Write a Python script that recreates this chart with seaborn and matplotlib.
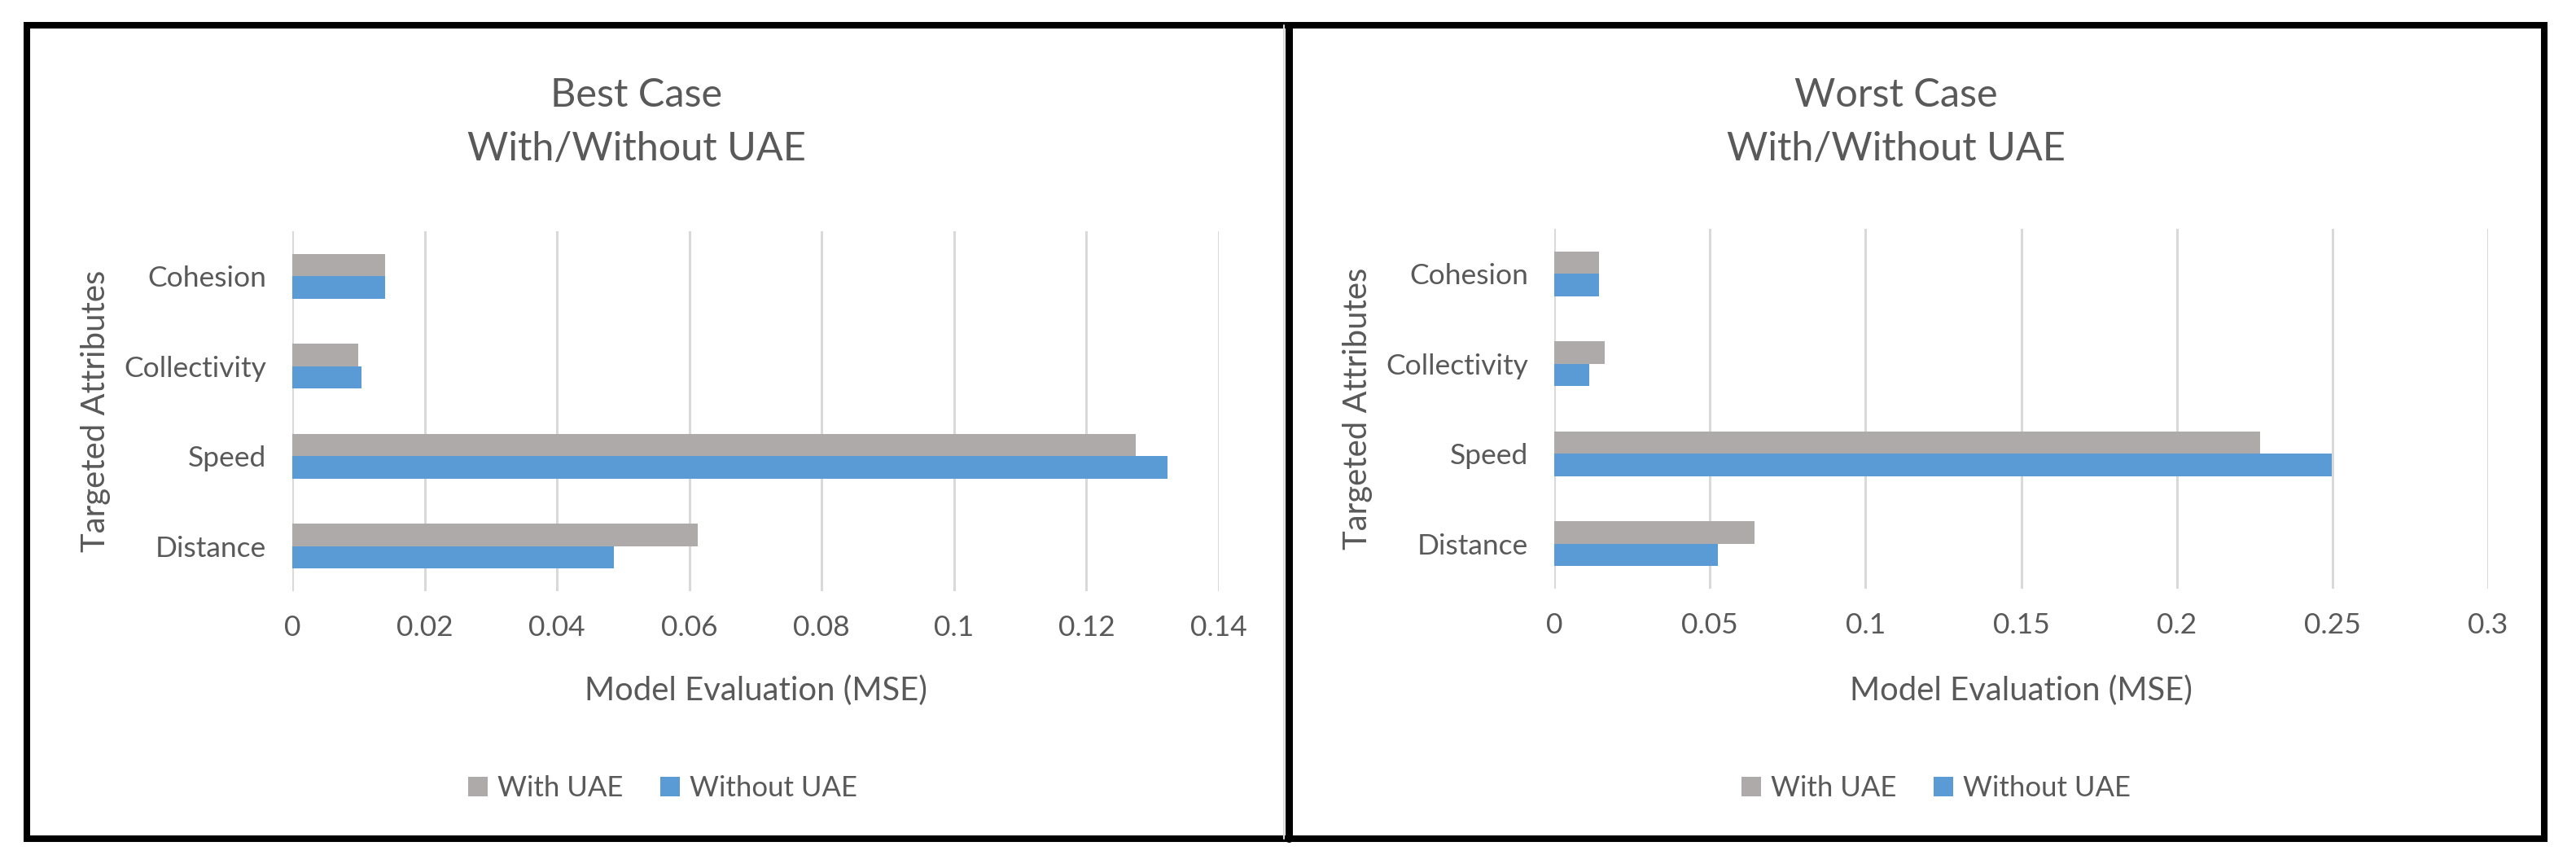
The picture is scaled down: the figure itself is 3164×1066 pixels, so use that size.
import matplotlib
matplotlib.use("Agg")
import matplotlib.pyplot as plt
from matplotlib.patches import Rectangle, Patch
from matplotlib.lines import Line2D
from matplotlib.ticker import FixedLocator, FixedFormatter
import seaborn as sns
import pandas as pd

# ---------------- data ----------------
attributes = ["Cohesion", "Collectivity", "Speed", "Distance"]
series_names = ["With UAE", "Without UAE"]

best_with = [0.0140, 0.0100, 0.1275, 0.0613]
best_without = [0.0140, 0.0105, 0.1323, 0.0486]

worst_with = [0.0145, 0.0163, 0.2268, 0.0644]
worst_without = [0.0145, 0.0113, 0.2499, 0.0526]

best_ticks = [0, 0.02, 0.04, 0.06, 0.08, 0.10, 0.12, 0.14]
best_tick_labels = ["0", "0.02", "0.04", "0.06", "0.08", "0.1", "0.12", "0.14"]
worst_ticks = [0, 0.05, 0.10, 0.15, 0.20, 0.25, 0.30]
worst_tick_labels = ["0", "0.05", "0.1", "0.15", "0.2", "0.25", "0.3"]

titles = ["Best Case\nWith/Without UAE", "Worst Case\nWith/Without UAE"]
xlabel = "Model Evaluation (MSE)"
ylabel = "Targeted Attributes"

colors = ["#AEAAAA", "#5B9BD5"]
text_color = "#595959"
grid_color = "#D9D9D9"

# ---------------- style ----------------
sns.set_theme(style="white")
plt.rcParams["font.family"] = ["Lato", "DejaVu Sans"]

W, H = 3164, 1066
DPI = 100
fig = plt.figure(figsize=(W / DPI, H / DPI), dpi=DPI)
fig.patch.set_facecolor("white")

def px_axes(x0, y0, x1, y1):
    return fig.add_axes([x0 / W, 1 - y1 / H, (x1 - x0) / W, (y1 - y0) / H])

def long_df(v_with, v_without):
    rows = []
    for a, v in zip(attributes, v_with):
        rows.append({"attr": a, "series": series_names[0], "value": v})
    for a, v in zip(attributes, v_without):
        rows.append({"attr": a, "series": series_names[1], "value": v})
    return pd.DataFrame(rows)

panels = [
    dict(box=(359, 284, 1497, 726), data=long_df(best_with, best_without),
         ticks=best_ticks, labels=best_tick_labels, xmax=0.14,
         title=titles[0], title_x=782, legend_x=814, ylab_x=117),
    dict(box=(1909, 281, 3056, 723), data=long_df(worst_with, worst_without),
         ticks=worst_ticks, labels=worst_tick_labels, xmax=0.30,
         title=titles[1], title_x=2329, legend_x=2378, ylab_x=1668),
]

tick_fs = 25.5
legend_fs = 25.0
label_fs = 28.8
title_fs = 35

for p in panels:
    x0, y0, x1, y1 = p["box"]
    ax = px_axes(x0, y0, x1, y1)
    sns.barplot(data=p["data"], x="value", y="attr", hue="series",
                order=attributes, hue_order=series_names, palette=colors,
                saturation=1, width=0.5, linewidth=0, ax=ax, legend=False,
                errorbar=None)
    ax.set_xlim(0, p["xmax"])
    ax.xaxis.set_major_locator(FixedLocator(p["ticks"]))
    ax.xaxis.set_major_formatter(FixedFormatter(p["labels"]))
    ax.set_axisbelow(True)
    ax.grid(axis="x", color=grid_color, linewidth=2.2)
    ax.grid(axis="y", visible=False)
    for s in ax.spines.values():
        s.set_visible(False)
    ax.tick_params(axis="both", length=0, labelsize=tick_fs, labelcolor=text_color)
    ax.tick_params(axis="x", pad=21)
    ax.tick_params(axis="y", pad=23)

    w = x1 - x0
    h = y1 - y0
    ax.set_xlabel(xlabel, fontsize=label_fs, color=text_color, va="center")
    ax.xaxis.set_label_coords(0.5, (y1 - 848) / h)
    ax.set_ylabel(ylabel, fontsize=label_fs, color=text_color, va="center")
    ax.yaxis.set_label_coords((p["ylab_x"] - x0) / w, 0.5)

    fig.text(p["title_x"] / W, 1 - 150 / H, p["title"], ha="center", va="center",
             fontsize=title_fs, color=text_color, linespacing=1.6)

    handles = [Patch(facecolor=c, edgecolor="none") for c in colors]
    fig.legend(handles, series_names, loc="center", ncol=2,
               bbox_to_anchor=(p["legend_x"] / W, 1 - 968 / H),
               frameon=False, fontsize=legend_fs, labelcolor=text_color,
               handlelength=0.7, handleheight=0.7, handletextpad=0.35,
               columnspacing=1.3)

# ---------------- borders ----------------
fig.add_artist(Line2D([1576.5 / W, 1576.5 / W], [1 - 1030 / H, 1 - 31 / H],
                      transform=fig.transFigure, color=grid_color, linewidth=1.5))
fig.add_artist(Rectangle((33 / W, 1 - 1030 / H), (3125 - 33) / W, (1030 - 31) / H,
                         transform=fig.transFigure, fill=False,
                         edgecolor="black", linewidth=5.8))
fig.add_artist(Line2D([1582.5 / W, 1582.5 / W], [1 - 1030 / H, 1 - 31 / H],
                      transform=fig.transFigure, color="black", linewidth=6.5))

fig.savefig("out.png", dpi=DPI, facecolor="white")
